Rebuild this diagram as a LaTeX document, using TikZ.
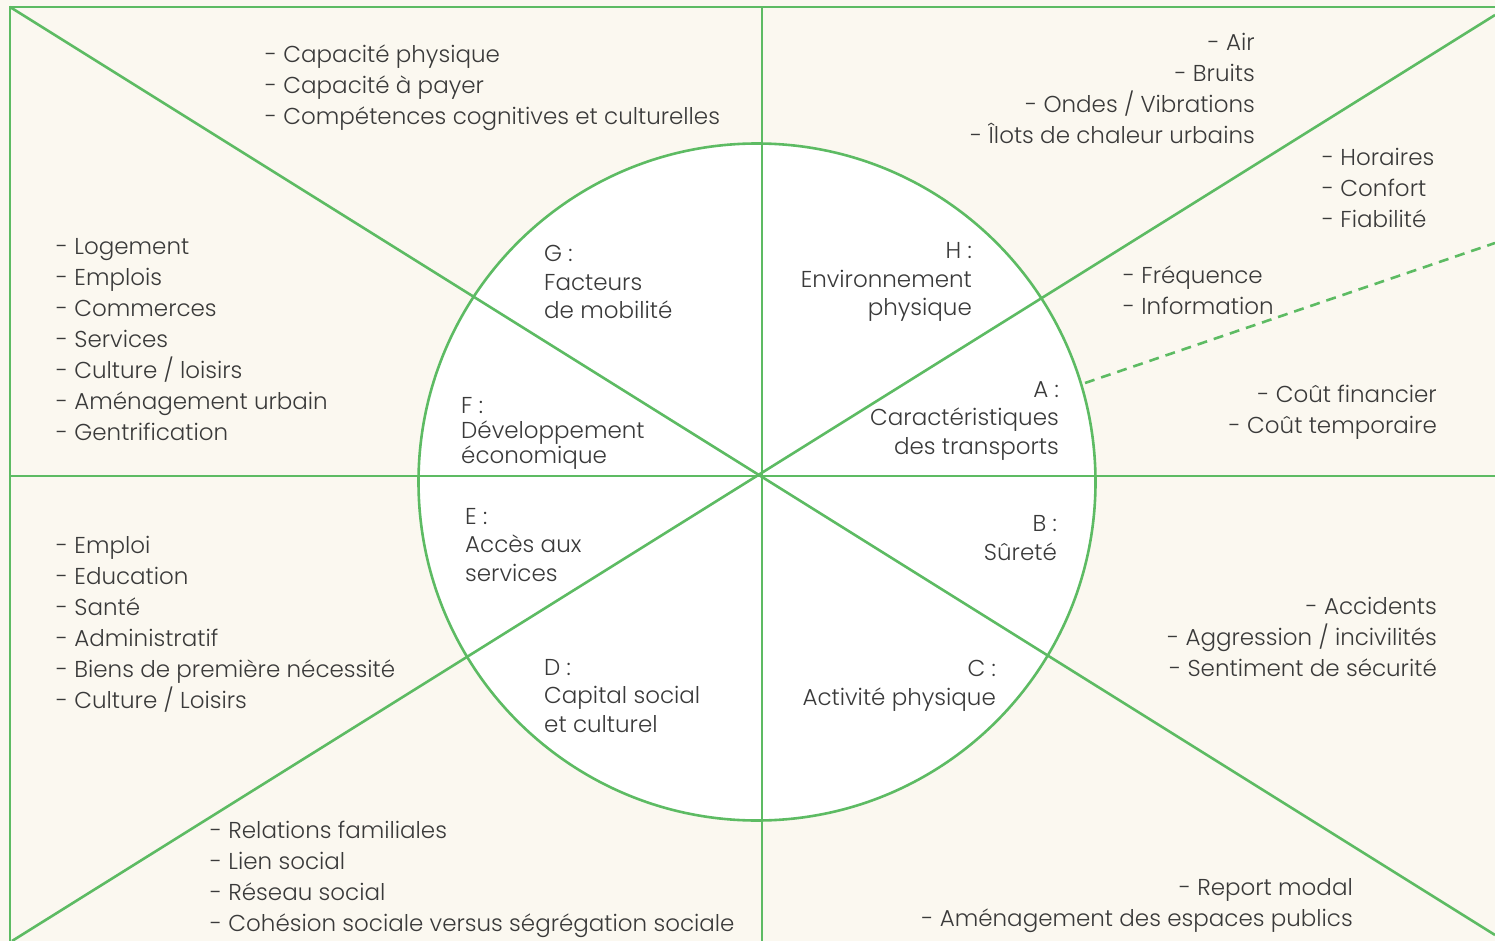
\documentclass[tikz,border=0pt]{standalone}
\usepackage{fontspec}
\setmainfont{Poppins}[UprightFont=* Light]
\definecolor{gr}{HTML}{5DBB63}
\definecolor{bg}{HTML}{FBF8F0}
\definecolor{tx}{HTML}{3A3A3A}
\tikzset{
  grline/.style={draw=gr,line width=2.6pt},
  lst/.style={inner sep=0pt,text=tx,font=\fontsize{23}{31}\selectfont},
  lbl/.style={inner sep=0pt,text=tx,font=\fontsize{23}{28.5}\selectfont},
}
\begin{document}
\begin{tikzpicture}[x=1pt,y=-1pt]
\useasboundingbox (0,0) rectangle (1495,941);
\fill[bg] (0,0) rectangle (1495,941);
\coordinate (O) at (762,476);
\coordinate (CC) at (757,482);
\coordinate (TL) at (10,7);
\coordinate (TR) at (1500,7);
\coordinate (BL) at (10,945);
\coordinate (VT) at (762,7);
\coordinate (VB) at (762,945);
\coordinate (HL) at (10,476);
\coordinate (HR) at (1500,476);
\coordinate (D1) at (1495,935);
\coordinate (D2a) at (1495,15);
\coordinate (D2b) at (12,941);
\coordinate (DS) at (1085,383);
\coordinate (DE) at (1495,243);
\node[circle,fill=white,draw=gr,line width=2.6pt,minimum size=677pt,inner sep=0pt] (C) at (CC) {};
\draw[grline] (BL) -- (TL) -- (TR);
\draw[grline] (VT) -- (VB);
\draw[grline] (HL) -- (HR);
\draw[grline] (TL) -- (D1);
\draw[grline] (D2b) -- (D2a);
\draw[grline,dash pattern=on 10pt off 7pt] (DS) -- (DE);
% outer lists
\node[lst,anchor=west,align=left] (tA) at (265,88) {- Capacité physique\\- Capacité à payer\\- Compétences cognitives et culturelles};
\node[lst,anchor=east,align=right] (tB) at (1255,88) {- Air\\- Bruits\\- Ondes / Vibrations\\- Îlots de chaleur urbains};
\node[lst,anchor=west,align=left] (tC) at (1322,188) {- Horaires\\- Confort\\- Fiabilité};
\node[lst,anchor=west,align=left] (tD) at (1123,290) {- Fréquence\\- Information};
\node[lst,anchor=east,align=right] (tE) at (1437,412) {- Coût financier\\- Coût temporaire};
\node[lst,anchor=east,align=right] (tF) at (1437,637) {- Accidents\\- Aggression / incivilités\\- Sentiment de sécurité};
\node[lst,anchor=east,align=right] (tG) at (1353,906) {- Report modal\\- Aménagement des espaces publics};
\node[lst,anchor=west,align=left] (tH) at (210,879) {- Relations familiales\\- Lien social\\- Réseau social\\- Cohésion sociale versus ségrégation sociale};
\node[lst,anchor=west,align=left] (tI) at (56,624) {- Emploi\\- Education\\- Santé\\- Administratif\\- Biens de première nécessité\\- Culture / Loisirs};
\node[lst,anchor=west,align=left] (tJ) at (56,340) {- Logement\\- Emplois\\- Commerces\\- Services\\- Culture / loisirs\\- Aménagement urbain\\- Gentrification};
% inner labels
\node[lbl,anchor=west,align=left] (lG) at (544,282) {G :\\Facteurs\\de mobilité};
\node[lbl,anchor=east,align=right] (lH) at (972,282) {H :\\Environnement\\physique};
\node[lbl,anchor=east,align=right] (lA) at (1059,421) {A :\\Caractéristiques\\des transports};
\node[lbl,anchor=west,align=left,font=\fontsize{23}{25}\selectfont] (lF) at (461,433) {F :\\Développement\\économique};
\node[lbl,anchor=west,align=left] (lE) at (465,545) {E :\\Accès aux\\services};
\node[lbl,anchor=east,align=right] (lB) at (1057,538) {B :\\Sûreté};
\node[lbl,anchor=west,align=left] (lD) at (544,696) {D :\\Capital social\\et culturel};
\node[lbl,anchor=east,align=right] (lC) at (996,686) {C :\\Activité physique};
\end{tikzpicture}
\end{document}
